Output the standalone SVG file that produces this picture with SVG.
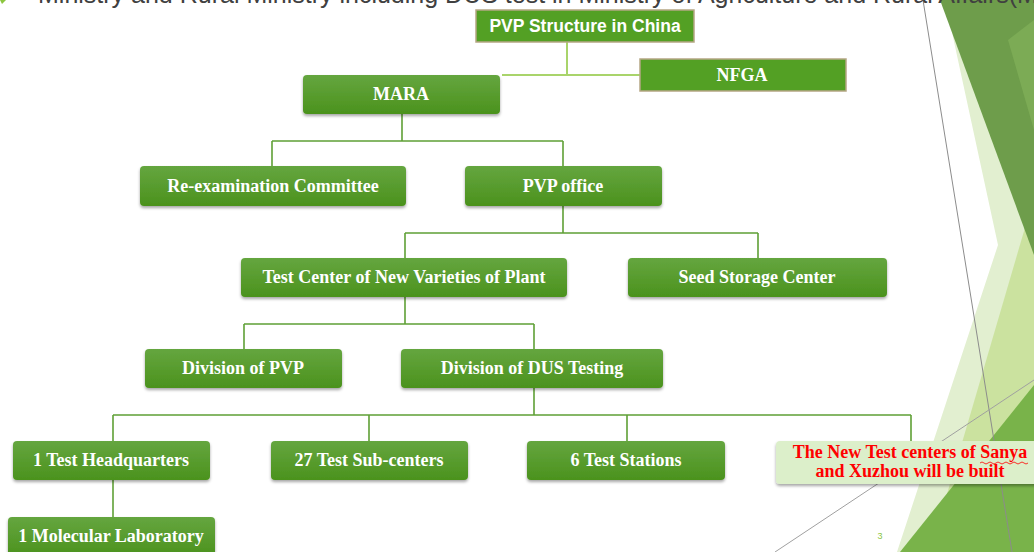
<svg xmlns="http://www.w3.org/2000/svg" width="1034" height="552" viewBox="0 0 1034 552">
<style>
.node{fill:url(#g);filter:url(#sh)}
.sq{fill:#53a024;stroke:#b5a684;stroke-width:1.5}
.t{font-family:"Liberation Serif",serif;font-weight:bold;font-size:18px;fill:#fff;text-anchor:middle}
.ts{font-family:"Liberation Sans",sans-serif;font-weight:bold;font-size:17.5px;fill:#fff;text-anchor:middle}
.c{fill:none;stroke:#5fa036;stroke-width:1.6}
.cl{fill:none;stroke:#a9d46b;stroke-width:2}
.r{font-family:"Liberation Serif",serif;font-weight:bold;font-size:18px;fill:#ff0000;text-anchor:middle}
</style>
<defs>
<linearGradient id="g" x1="0" y1="0" x2="0" y2="1">
<stop offset="0" stop-color="#65a63f"/>
<stop offset="1" stop-color="#4b921d"/>
</linearGradient>
<filter id="sh" x="-10%" y="-20%" width="120%" height="150%">
<feDropShadow dx="0" dy="2" stdDeviation="1.5" flood-color="#000" flood-opacity="0.35"/>
</filter>
</defs>
<rect width="1034" height="552" fill="#fff"/>
<g id="background">
<polygon points="945,0 1034,0 1034,552 897,552 998,245" fill="#e2efd0"/>
<polygon points="1034,197 1034,552 930,552" fill="#cbe29f"/>
<polygon points="940,0 1034,0 1034,255" fill="#6e9d4b"/>
<polygon points="1008,40 1034,20 1034,130" fill="#82b05a" opacity="0.7"/>
<polygon points="1034,385 1034,552 900,552" fill="#79b34a"/>
<line x1="923" y1="0" x2="1012" y2="552" stroke="#8c8c8c" stroke-width="1"/>
<line x1="775" y1="552" x2="1034" y2="380" stroke="#a0a0a0" stroke-width="1"/>
<polygon points="0,0 6,0 2,4" fill="#8cc63f"/>
<text x="38" y="3" font-family="Liberation Sans,sans-serif" font-size="25" fill="#404040">Ministry and Rural Ministry including DUS test in Ministry of Agriculture and Rural Affairs(MA</text>
<text x="880" y="539" font-family="Liberation Sans,sans-serif" font-size="9" fill="#8cc63f" text-anchor="middle">3</text>
</g>
<g id="connectors">
<path class="cl" d="M567,42 V75 M502,75 H640"/>
<path class="c" d="M402,114 V141 M272,141 H563 M272,141 V167 M563,141 V167"/>
<path class="c" d="M563,206 V233 M405,233 H758 M405,233 V259 M758,233 V259"/>
<path class="c" d="M405,297 V324 M244,324 H534 M244,324 V350 M534,324 V350"/>
<path class="c" d="M534,388 V415 M113,415 H911 M113,415 V442 M369,415 V442 M627,415 V442 M911,415 V442"/>
<path class="c" d="M113,480 V518"/>
</g>
<g id="n-pvp-structure">
<rect class="sq" x="476" y="10" width="218" height="32"/>
<text class="ts" x="585" y="32">PVP Structure in China</text>
</g>
<g id="n-nfga">
<rect class="sq" x="640" y="59" width="206" height="32"/>
<text class="t" x="742" y="81">NFGA</text>
</g>
<g id="n-mara">
<rect class="node" x="303" y="75" width="197" height="39" rx="4"/>
<text class="t" x="401" y="100">MARA</text>
</g>
<g id="n-reexam">
<rect class="node" x="140" y="166" width="266" height="40" rx="4"/>
<text class="t" x="273" y="192">Re-examination Committee</text>
</g>
<g id="n-pvpoffice">
<rect class="node" x="465" y="166" width="197" height="40" rx="4"/>
<text class="t" x="563" y="192">PVP office</text>
</g>
<g id="n-testcenter">
<rect class="node" x="241" y="258" width="326" height="39" rx="4"/>
<text class="t" x="404" y="283">Test Center of New Varieties of Plant</text>
</g>
<g id="n-seed">
<rect class="node" x="628" y="258" width="259" height="39" rx="4"/>
<text class="t" x="757" y="283">Seed Storage Center</text>
</g>
<g id="n-divpvp">
<rect class="node" x="145" y="349" width="197" height="39" rx="4"/>
<text class="t" x="243" y="374">Division of PVP</text>
</g>
<g id="n-divdus">
<rect class="node" x="401" y="349" width="262" height="39" rx="4"/>
<text class="t" x="532" y="374">Division of DUS Testing</text>
</g>
<g id="n-hq">
<rect class="node" x="13" y="441" width="197" height="39" rx="4"/>
<text class="t" x="111" y="466">1 Test Headquarters</text>
</g>
<g id="n-sub">
<rect class="node" x="271" y="441" width="197" height="39" rx="4"/>
<text class="t" x="369" y="466">27 Test Sub-centers</text>
</g>
<g id="n-stations">
<rect class="node" x="527" y="441" width="198" height="39" rx="4"/>
<text class="t" x="626" y="466">6 Test Stations</text>
</g>
<g id="n-new">
<rect x="776" y="441" width="264" height="43" rx="4" fill="#dcefca" filter="url(#sh)"/>
<text class="r" x="910" y="458">The New Test centers of Sanya</text>
<text class="r" x="910" y="477">and Xuzhou will be built</text>
<path d="M980,463 q2,-2 4,0 t4,0 t4,0 t4,0 t4,0 t4,0 t4,0 t4,0 t4,0 t4,0 t4,0 t4,0" fill="none" stroke="#ff0000" stroke-width="0.8"/>
</g>
<g id="n-molecular">
<rect class="node" x="8" y="517" width="207" height="40" rx="4"/>
<text class="t" x="111" y="542">1 Molecular Laboratory</text>
</g>
</svg>
